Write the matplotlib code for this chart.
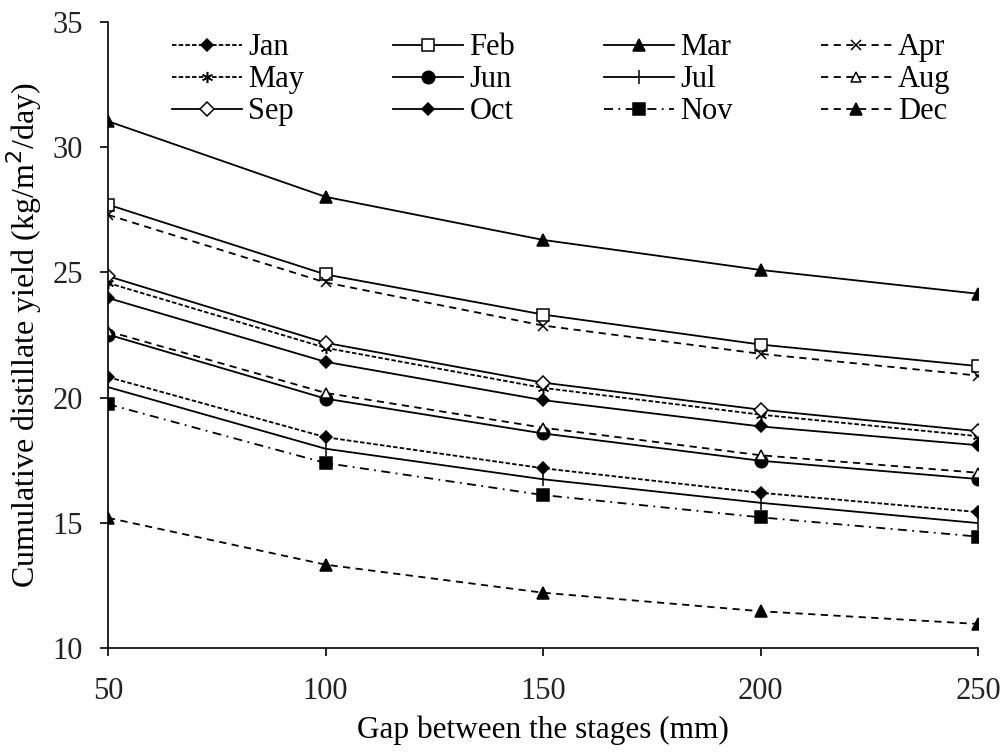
import matplotlib.pyplot as plt
import numpy as np

plt.rcParams['font.family'] = ['Liberation Serif', 'DejaVu Serif']

gap = [50, 100, 150, 200, 250]

jan = [20.82, 18.42, 17.18, 16.20, 15.43]
feb = [27.71, 24.92, 23.32, 22.12, 21.26]
mar = [31.04, 28.02, 26.30, 25.10, 24.15]
apr = [27.30, 24.60, 22.88, 21.75, 20.88]
may = [24.58, 21.99, 20.39, 19.32, 18.46]
jun = [22.52, 19.96, 18.57, 17.48, 16.75]
jul = [20.42, 17.96, 16.74, 15.80, 14.99]
aug = [22.65, 20.19, 18.80, 17.70, 17.00]
sep = [24.85, 22.19, 20.60, 19.52, 18.66]
oct_ = [23.98, 21.43, 19.90, 18.85, 18.10]
nov = [19.74, 17.39, 16.11, 15.22, 14.45]
dec = [15.20, 13.33, 12.21, 11.47, 10.96]

months = ['Jan', 'Feb', 'Mar', 'Apr', 'May', 'Jun',
          'Jul', 'Aug', 'Sep', 'Oct', 'Nov', 'Dec']
series = [jan, feb, mar, apr, may, jun, jul, aug, sep, oct_, nov, dec]

# line dash pattern, marker, marker face, marker size
styles = [
    ((0, (2.5, 1.2)), 'D', 'k', 6),
    ('-', 's', 'w', 8),
    ('-', '^', 'k', 9),
    ((0, (4, 3)), 'x', 'k', 7),
    ((0, (2.5, 1.2)), (6, 2, 0), 'k', 8),
    ('-', 'o', 'k', 9),
    ('-', '|', 'k', 10),
    ((0, (4, 3)), '^', 'w', 7),
    ('-', 'D', 'w', 7),
    ('-', 'D', 'k', 6),
    ((0, (5, 3, 1, 3)), 's', 'k', 9),
    ((0, (4, 3)), '^', 'k', 8),
]

fig = plt.figure(figsize=(10.03, 7.53), dpi=100)
ax = fig.add_axes([0.1077, 0.1394, 0.8674, 0.8313])

lines = []
for name, vals, (ls, mk, fc, ms) in zip(months, series, styles):
    ln, = ax.plot(gap, vals, color='k', linestyle=ls, linewidth=1.3,
                  marker=mk, markersize=ms, markerfacecolor=fc,
                  markeredgecolor='k', markeredgewidth=1.1, label=name)
    lines.append(ln)

ax.set_xlim(50, 250)
ax.set_ylim(10, 35)
ax.set_xticks([50, 100, 150, 200, 250])
ax.set_yticks([10, 15, 20, 25, 30, 35])
ax.tick_params(direction='out', length=6, width=1.2, labelsize=22, pad=12)
ax.tick_params(axis='x', pad=15)
ax.spines['top'].set_visible(False)
ax.spines['right'].set_visible(False)
ax.spines['left'].set_linewidth(1.2)
ax.spines['bottom'].set_linewidth(1.2)
for lbl in ax.get_xticklabels() + ax.get_yticklabels():
    lbl.set_color('#222222')

ax.set_xlabel('Gap between the stages (mm)', fontsize=22.5, labelpad=7)
ax.set_ylabel('Cumulative distillate yield (kg/m$^2$/day)', fontsize=23,
              labelpad=6)

# legend reads across rows, so feed it column by column
order = [0, 4, 8, 1, 5, 9, 2, 6, 10, 3, 7, 11]
ax.legend([lines[i] for i in order], [months[i] for i in order],
          ncol=4, loc='upper left', bbox_to_anchor=(0.0736, 0.982),
          frameon=False, fontsize=22, handlelength=2.3, handletextpad=0.2,
          columnspacing=2.9, labelspacing=0.1, borderpad=0,
          borderaxespad=0)

fig.savefig('out.png', dpi=100)
